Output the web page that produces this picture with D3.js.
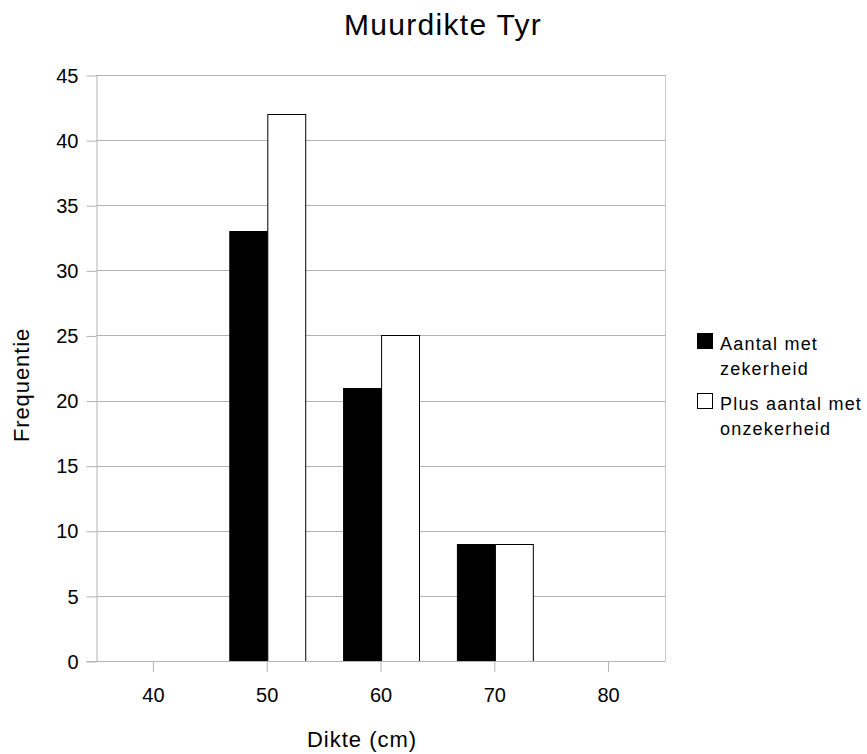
<!DOCTYPE html>
<html>
<head>
<meta charset="utf-8">
<script src="https://cdn.jsdelivr.net/npm/d3@7"></script>
<style>
  html, body { margin: 0; padding: 0; background: #fff; }
  svg { display: block; font-family: "Liberation Sans", Arial, sans-serif; }
</style>
</head>
<body>
<svg id="chart" width="867" height="754"></svg>
<script>
// Wall thickness classes (cm)
const categories = ["40", "50", "60", "70", "80"];
// Counts known with certainty
const zeker = [0, 33, 21, 9, 0];
// Counts including the uncertain ones
const plusOnzeker = [0, 42, 25, 9, 0];
const yTicks = [0, 5, 10, 15, 20, 25, 30, 35, 40, 45];
const seriesNames = ["Aantal met zekerheid", "Plus aantal met onzekerheid"];
const legendLines = [["Aantal met", "zekerheid"], ["Plus aantal met", "onzekerheid"]];

const svg = d3.select("#chart");
const plot = { left: 96.5, right: 665.5, top: 75, bottom: 661 };
const grid = "#b3b3b3";

const x = d3.scaleBand().domain(categories).range([plot.left, plot.right]).padding(0);
const inner = d3.scaleBand().domain([0, 1]).range([x.bandwidth() / 6, x.bandwidth() * 5 / 6]);
const y = d3.scaleLinear().domain([0, 45]).range([plot.bottom, plot.top]);

// title
svg.append("text")
  .attr("x", 443).attr("y", 35)
  .attr("text-anchor", "middle")
  .attr("font-size", 30).attr("letter-spacing", 1.3)
  .text("Muurdikte Tyr");

// horizontal gridlines
svg.append("g").selectAll("line").data(yTicks.filter(d => d > 0)).join("line")
  .attr("x1", plot.left).attr("x2", plot.right)
  .attr("y1", d => Math.round(y(d)) + 0.5).attr("y2", d => Math.round(y(d)) + 0.5)
  .attr("stroke", grid).attr("stroke-width", 1);

// right border
svg.append("line")
  .attr("x1", plot.right).attr("x2", plot.right)
  .attr("y1", plot.top).attr("y2", plot.bottom)
  .attr("stroke", "#c8c8c8");

// y axis
const yAxis = svg.append("g")
  .attr("transform", `translate(${plot.left},0)`)
  .call(d3.axisLeft(y).tickValues(yTicks).tickSize(10).tickPadding(8).tickFormat(d3.format("d")));
yAxis.select(".domain").attr("stroke", grid).attr("d", `M0.5,${plot.top}V${plot.bottom}`);
yAxis.selectAll(".tick line").attr("stroke", grid).attr("transform", "translate(0,0.5)");
yAxis.selectAll(".tick text")
  .attr("font-size", 20).attr("fill", "#000")
  .attr("font-family", "Liberation Sans, Arial, sans-serif")
  .attr("x", -18).attr("dy", "0.36em");

// bars
const series = [zeker, plusOnzeker];
const groups = svg.append("g").selectAll("g").data(categories).join("g")
  .attr("transform", d => `translate(${x(d)},0)`);
groups.selectAll("rect")
  .data((c, i) => series.map((s, k) => ({ k, v: s[i] })))
  .join("rect")
  .filter(d => d.v > 0)
  .attr("x", d => Math.round(inner(d.k)) + 0.5)
  .attr("width", inner.bandwidth())
  .attr("y", d => Math.round(y(d.v)) + 0.5)
  .attr("height", d => Math.round(y(0)) - Math.round(y(d.v)))
  .attr("fill", d => d.k === 0 ? "#000" : "#fff")
  .attr("stroke", "#000").attr("stroke-width", 1);

// x axis
const xAxis = svg.append("g")
  .attr("transform", `translate(0,${plot.bottom})`)
  .call(d3.axisBottom(x).tickSize(11).tickPadding(16));
xAxis.select(".domain").attr("stroke", grid).attr("d", `M${plot.left - 10},0.5H${plot.right}`);
xAxis.selectAll(".tick line").attr("stroke", grid);
xAxis.selectAll(".tick text")
  .attr("font-size", 20).attr("fill", "#000")
  .attr("font-family", "Liberation Sans, Arial, sans-serif");

// axis titles
svg.append("text")
  .attr("x", 362).attr("y", 747)
  .attr("text-anchor", "middle")
  .attr("font-size", 22).attr("letter-spacing", 1)
  .text("Dikte (cm)");
svg.append("text")
  .attr("transform", "translate(29,385) rotate(-90)")
  .attr("text-anchor", "middle")
  .attr("font-size", 22).attr("letter-spacing", 0.9)
  .text("Frequentie");

// legend
const legend = svg.append("g");
const legendTop = [333, 393];
legendLines.forEach((lines, k) => {
  legend.append("rect")
    .attr("x", 697.5).attr("y", legendTop[k] + 0.5)
    .attr("width", 15).attr("height", 15)
    .attr("fill", k === 0 ? "#000" : "#fff")
    .attr("stroke", "#000");
  lines.forEach((t, j) => {
    legend.append("text")
      .attr("x", 720).attr("y", legendTop[k] + 17 + j * 25)
      .attr("font-size", 18).attr("letter-spacing", 1.2)
      .text(t);
  });
});
</script>
</body>
</html>
